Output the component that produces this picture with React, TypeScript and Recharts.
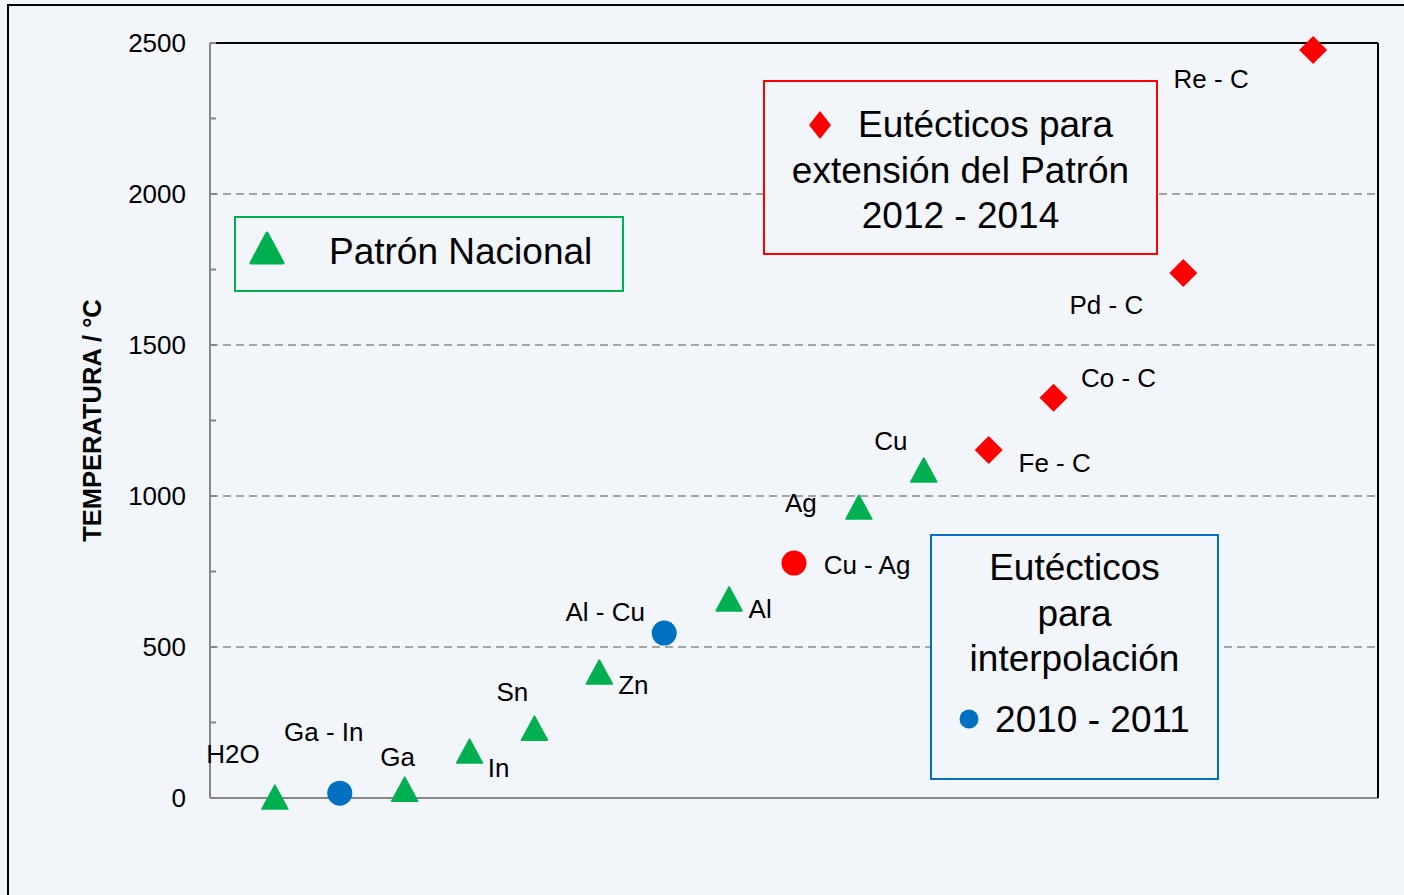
import { ReferenceLine, Scatter, ScatterChart, XAxis, YAxis } from 'recharts';

// Patrón Nacional (green triangles)
const patronNames = ['H2O', 'Ga', 'In', 'Sn', 'Zn', 'Al', 'Ag', 'Cu'];
const patronPos = [1, 3, 4, 5, 6, 8, 10, 11];
const patronTemps = [0, 26, 152, 228, 414, 656, 960, 1083];

// Eutécticos para interpolación 2010 - 2011 (blue circles)
const interpNames = ['Ga - In', 'Al - Cu'];
const interpPos = [2, 7];
const interpTemps = [16, 546];

// Cu - Ag (red circle)
const cuAgNames = ['Cu - Ag'];
const cuAgPos = [9];
const cuAgTemps = [778];

// Eutécticos para extensión del Patrón 2012 - 2014 (red diamonds)
const extNames = ['Fe - C', 'Co - C', 'Pd - C', 'Re - C'];
const extPos = [12, 13, 15, 17];
const extTemps = [1152, 1325, 1738, 2477];

const yTicks = [0, 250, 500, 750, 1000, 1250, 1500, 1750, 2000, 2250, 2500];
const gridValues = [500, 1000, 1500, 2000];

const GREEN = '#00b050';
const BLUE = '#0070c0';
const RED = '#ff0000';
const FONT = '"Liberation Sans", Arial, sans-serif';
const BG = '#f2f5fa';

// label placement relative to each marker (text centre)
const labelOffset: Record<string, [number, number]> = {
  H2O: [-42, -44],
  'Ga - In': [-16, -61],
  Ga: [-7, -33],
  In: [29, 16],
  Sn: [-22, -37],
  Zn: [34, 12],
  'Al - Cu': [-59, -21],
  Al: [31, 9],
  'Cu - Ag': [73, 2],
  Ag: [-58, -5],
  Cu: [-33, -30],
  'Fe - C': [66, 13],
  'Co - C': [65, -20],
  'Pd - C': [-77, 32],
  'Re - C': [-102, 29],
};

const toPoints = (names: string[], xs: number[], ys: number[]) =>
  names.map((name, i) => ({ name, x: xs[i], y: ys[i] }));

const patronData = toPoints(patronNames, patronPos, patronTemps);
const interpData = toPoints(interpNames, interpPos, interpTemps);
const cuAgData = toPoints(cuAgNames, cuAgPos, cuAgTemps);
const extData = toPoints(extNames, extPos, extTemps);

function makeShape(kind: 'triangle' | 'circle' | 'diamond', color: string) {
  return (props: any) => {
    const { cx, cy, payload } = props;
    const [dx, dy] = labelOffset[payload.name] ?? [0, -30];
    let mark;
    if (kind === 'triangle') {
      mark = (
        <polygon
          points={`${cx},${cy - 13} ${cx + 13},${cy + 11} ${cx - 13},${cy + 11}`}
          fill={color}
          stroke={color}
          strokeWidth={1.5}
          strokeLinejoin="round"
        />
      );
    } else if (kind === 'circle') {
      mark = <circle cx={cx} cy={cy} r={12.5} fill={color} />;
    } else {
      mark = (
        <polygon
          points={`${cx},${cy - 14} ${cx + 14},${cy} ${cx},${cy + 14} ${cx - 14},${cy}`}
          fill={color}
        />
      );
    }
    return (
      <g>
        {mark}
        <text
          x={cx + dx}
          y={cy + dy}
          textAnchor="middle"
          dominantBaseline="central"
          fontFamily={FONT}
          fontSize={26}
          fill="#000"
        >
          {payload.name}
        </text>
      </g>
    );
  };
}

function YTick({ x, y, payload }: any) {
  return (
    <g>
      <line x1={x} x2={x + 6} y1={y} y2={y} stroke="#868686" strokeWidth={2} />
      {payload.value % 500 === 0 && (
        <text
          x={x - 24}
          y={y}
          textAnchor="end"
          dominantBaseline="central"
          fontFamily={FONT}
          fontSize={26}
          fill="#000"
        >
          {payload.value}
        </text>
      )}
    </g>
  );
}

const boxText: React.CSSProperties = {
  fontFamily: FONT,
  fontSize: 37,
  color: '#000',
  lineHeight: '45.5px',
  textAlign: 'center',
  whiteSpace: 'nowrap',
};

export default function App() {
  return (
    <div style={{ position: 'absolute', left: 0, top: 0, width: 1404, height: 895, background: BG, overflow: 'hidden' }}>
      <div
        style={{
          position: 'absolute',
          left: 7,
          top: 4,
          width: 1500,
          height: 1000,
          borderLeft: '2px solid #000',
          borderTop: '2px solid #000',
        }}
      />
      <div style={{ position: 'absolute', left: 0, top: 0 }}>
        <ScatterChart width={1404} height={895} margin={{ top: 43, right: 26, bottom: 97, left: 150 }}>
          <XAxis type="number" dataKey="x" domain={[0, 18]} hide />
          <YAxis
            type="number"
            dataKey="y"
            domain={[0, 2500]}
            ticks={yTicks}
            interval={0}
            width={60}
            tickSize={0}
            tickMargin={0}
            tickLine={false}
            tick={<YTick />}
            axisLine={{ stroke: '#868686', strokeWidth: 2 }}
            label={{
              content: ({ viewBox }: any) => (
                <text
                  x={viewBox.x - 58}
                  y={viewBox.y + viewBox.height / 2}
                  transform={`rotate(-90, ${viewBox.x - 58}, ${viewBox.y + viewBox.height / 2})`}
                  textAnchor="middle"
                  dominantBaseline="central"
                  fontFamily={FONT}
                  fontSize={25.5}
                  fontWeight="bold"
                  fill="#000"
                >
                  TEMPERATURA / °C
                </text>
              ),
            }}
          />
          {gridValues.map((v) => (
            <ReferenceLine key={v} y={v} stroke="#8a8a8a" strokeWidth={1.5} strokeDasharray="8 5" />
          ))}
          <ReferenceLine y={0} stroke="#868686" strokeWidth={2} />
          <ReferenceLine y={2500} stroke="#000" strokeWidth={2} />
          <ReferenceLine x={18} stroke="#000" strokeWidth={2} />
          <Scatter data={patronData} shape={makeShape('triangle', GREEN)} isAnimationActive={false} />
          <Scatter data={interpData} shape={makeShape('circle', BLUE)} isAnimationActive={false} />
          <Scatter data={cuAgData} shape={makeShape('circle', RED)} isAnimationActive={false} />
          <Scatter data={extData} shape={makeShape('diamond', RED)} isAnimationActive={false} />
        </ScatterChart>
      </div>

      {/* Patrón Nacional box */}
      <div
        style={{
          position: 'absolute',
          left: 234,
          top: 216,
          width: 390,
          height: 76,
          boxSizing: 'border-box',
          border: `2px solid ${GREEN}`,
          background: BG,
        }}
      >
        <svg width={40} height={40} style={{ position: 'absolute', left: 12, top: 12 }}>
          <polygon points="19,3 35,33 3,33" fill={GREEN} stroke={GREEN} strokeWidth={3} strokeLinejoin="round" />
        </svg>
        <div style={{ ...boxText, position: 'absolute', left: 93, top: 11, textAlign: 'left' }}>Patrón Nacional</div>
      </div>

      {/* extension box */}
      <div
        style={{
          position: 'absolute',
          left: 763,
          top: 80,
          width: 395,
          height: 175,
          boxSizing: 'border-box',
          border: `2px solid ${RED}`,
          background: BG,
          paddingTop: 20,
        }}
      >
        <div style={{ ...boxText, display: 'flex', justifyContent: 'center', alignItems: 'center' }}>
          <svg width={24} height={30} style={{ marginRight: 26 }}>
            <polygon points="12,1 23,15 12,29 1,15" fill={RED} />
          </svg>
          <span>Eutécticos para</span>
        </div>
        <div style={boxText}>extensión del Patrón</div>
        <div style={boxText}>2012 - 2014</div>
      </div>

      {/* interpolation box */}
      <div
        style={{
          position: 'absolute',
          left: 930,
          top: 534,
          width: 289,
          height: 246,
          boxSizing: 'border-box',
          border: `2px solid ${BLUE}`,
          background: BG,
          paddingTop: 9,
        }}
      >
        <div style={boxText}>Eutécticos</div>
        <div style={boxText}>para</div>
        <div style={boxText}>interpolación</div>
        <div style={{ ...boxText, display: 'flex', justifyContent: 'center', alignItems: 'center', marginTop: 15 }}>
          <svg width={20} height={20} style={{ marginRight: 16 }}>
            <circle cx={10} cy={10} r={9.5} fill={BLUE} />
          </svg>
          <span>2010 - 2011</span>
        </div>
      </div>
    </div>
  );
}
